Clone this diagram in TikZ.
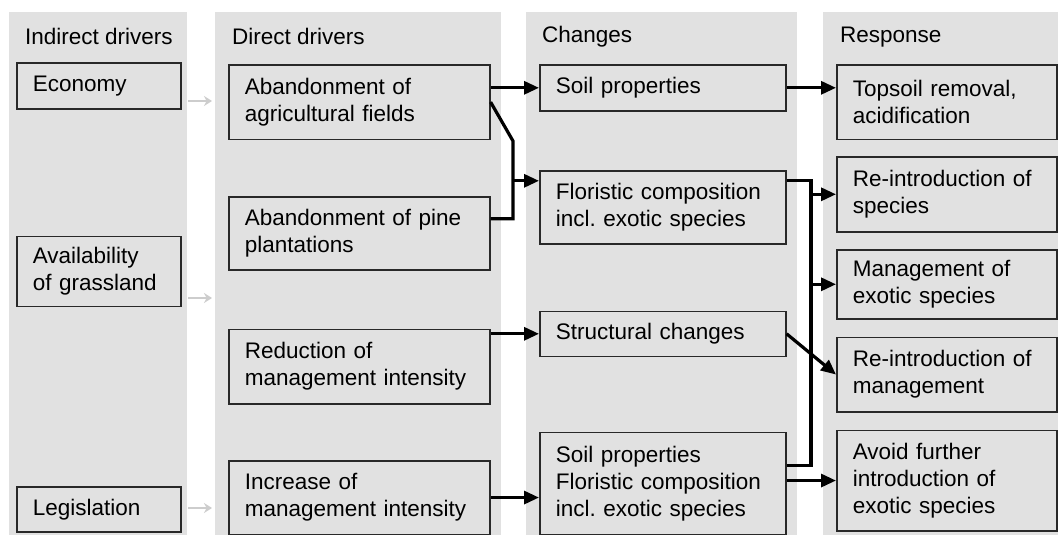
\documentclass[tikz,border=0pt]{standalone}
\usepackage{fontspec}
\setmainfont{Liberation Sans}
\usetikzlibrary{arrows.meta,calc}
\definecolor{panelgray}{RGB}{225,225,225}
\definecolor{framegray}{RGB}{40,40,40}
\definecolor{lightarrow}{RGB}{205,205,205}
\newcommand{\diagfont}{\fontsize{22.5}{27}\selectfont}
\frenchspacing

\begin{document}
\begin{tikzpicture}[x=1pt,y=-1pt,
  panel/.style={fill=panelgray, draw=none, anchor=north west, inner sep=0pt, outer sep=0pt},
  box/.style={draw=framegray, fill=panelgray, line width=1.6pt, anchor=north west,
              inner xsep=16pt, inner ysep=0pt, align=left, font=\diagfont},
  header/.style={anchor=base west, inner sep=0pt, font=\diagfont},
  link/.style={line width=3.2pt, -{Triangle[length=15pt,width=13pt]}},
  wire/.style={line width=3.2pt},
  faint/.style={draw=lightarrow, line width=2.2pt, shorten >=3pt, -{Stealth[length=8pt,width=10pt]}}]

\useasboundingbox (0,0) rectangle (1058,535);

% column panels
\node[panel, minimum width=178.5pt, minimum height=522.5pt] (p1) at (8.5,12.5) {};
\node[panel, minimum width=286pt,   minimum height=522.5pt] (p2) at (215,12.5) {};
\node[panel, minimum width=271pt,   minimum height=522.5pt] (p3) at (526,12.5) {};
\node[panel, minimum width=235pt,   minimum height=522.5pt] (p4) at (823,12.5) {};

% column headings
\node[header] (h1) at (25,45)  {Indirect drivers};
\node[header] (h2) at (232,45) {Direct drivers};
\node[header] (h3) at (542,43) {Changes};
\node[header] (h4) at (840,43) {Response};

% indirect drivers
\node[box, text width=132pt, minimum height=45.5pt] (eco)   at (16,62.5)  {Economy};
\node[box, text width=132pt, minimum height=70pt]   (avail) at (16,235.5) {Availability\\of grassland};
\node[box, text width=132pt, minimum height=45pt]   (legis) at (16,486)   {Legislation};

% direct drivers
\node[box, text width=229pt, minimum height=74.5pt] (agri) at (228,64)    {Abandonment of\\agricultural fields};
\node[box, text width=229pt, minimum height=73pt]   (pine) at (228,196)   {Abandonment of pine\\plantations};
\node[box, text width=229pt, minimum height=74.5pt] (red)  at (228,328.5) {Reduction of\\management intensity};
\node[box, text width=229pt, minimum height=73.5pt] (inc)  at (228,460)   {Increase of\\management intensity};

% changes
\node[box, text width=214pt, minimum height=46pt]    (soil)   at (539,64)    {Soil properties};
\node[box, text width=214pt, minimum height=73pt]    (flor)   at (539,170)   {Floristic composition\\incl. exotic species};
\node[box, text width=214pt, minimum height=45pt]    (struct) at (539,310.5) {Structural changes};
\node[box, text width=214pt, minimum height=102.5pt] (mix)    at (539,431.5) {Soil properties\\Floristic composition\\incl. exotic species};

% responses
\node[box, text width=188pt, minimum height=74.5pt]  (top)    at (836,64)    {Topsoil removal,\\acidification};
\node[box, text width=188pt, minimum height=75pt]    (respec) at (836,156)   {Re-introduction of\\species};
\node[box, text width=188pt, minimum height=69pt]    (manex)  at (836,249)   {Management of\\exotic species};
\node[box, text width=188pt, minimum height=74.5pt]  (remgmt) at (836,336.5) {Re-introduction of\\management};
\node[box, text width=188pt, minimum height=100.5pt] (avoid)  at (836,429.5) {Avoid further\\introduction of\\exotic species};

% faint links from indirect to direct drivers
\coordinate (g1) at (188,101);
\coordinate (g2) at (188,298);
\coordinate (g3) at (188,508);
\draw[faint] (g1) -- (g1 -| p2.west);
\draw[faint] (g2) -- (g2 -| p2.west);
\draw[faint] (g3) -- (g3 -| p2.west);

% direct drivers to changes
\draw[link] (soil.west -| agri.east) -- (soil.west);
\coordinate (j1) at (513,141);
\coordinate (pineout) at ($(pine.east)+(0,-14.5)$);
\coordinate (florin) at ($(flor.west)+(0,-26.5)$);
\draw[wire] (agri.east) -- (j1) -- (j1 |- pineout) -- (pineout);
\draw[link] (j1 |- florin) -- (florin);
\draw[link] (struct.west -| red.east) -- (struct.west);
\draw[link] (inc.east) -- (inc.east -| mix.west);

% changes to responses
\draw[link] (soil.east) -- (soil.east -| top.west);
\coordinate (j2) at (811,0);
\coordinate (florout) at ($(flor.east)+(0,-26.5)$);
\coordinate (mixout) at ($(mix.east)+(0,-17.75)$);
\draw[wire] (florout) -- (j2 |- florout) -- (j2 |- mixout) -- (mixout);
\draw[link] (j2 |- respec.west) -- (respec.west);
\draw[link] (j2 |- manex.west) -- (manex.west);
\draw[link] (struct.east) -- (remgmt.west);
\draw[link] (avoid.west -| mix.east) -- (avoid.west);
\end{tikzpicture}
\end{document}
